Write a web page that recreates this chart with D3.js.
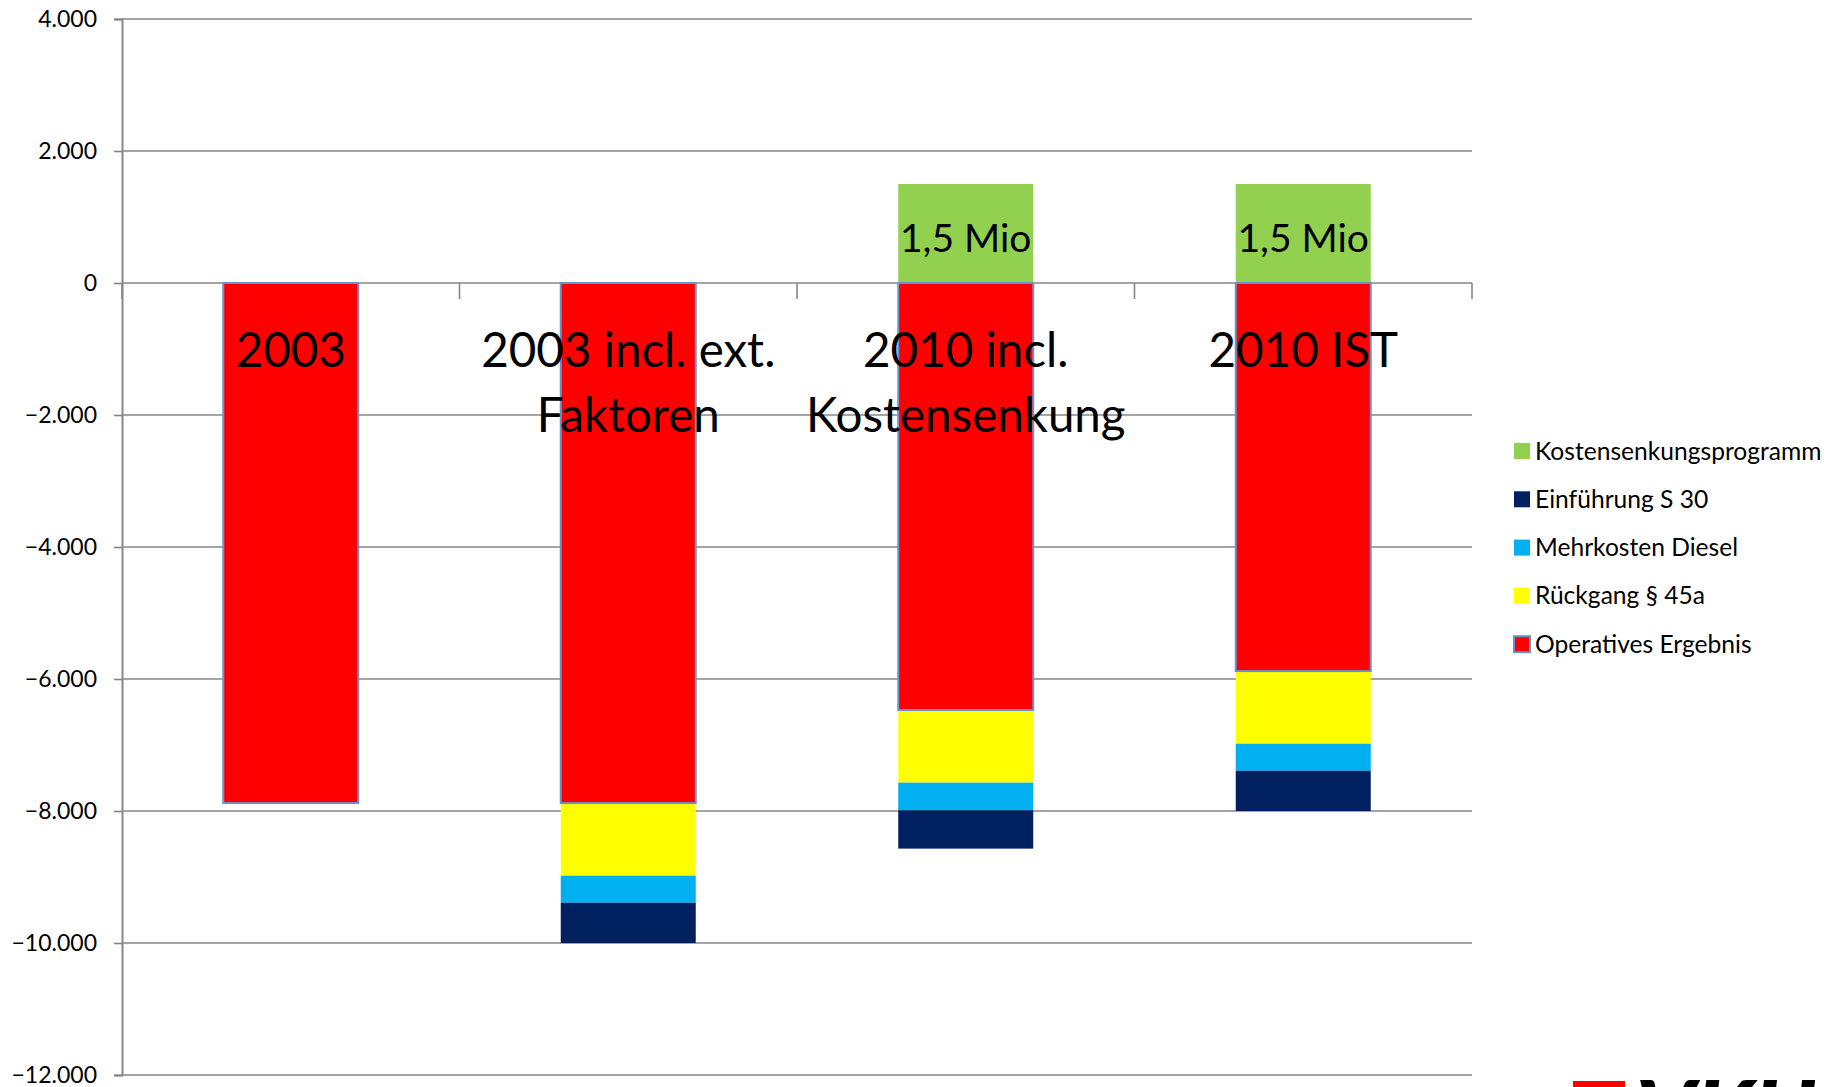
<!DOCTYPE html>
<html>
<head>
<meta charset="utf-8">
<script src="https://cdn.jsdelivr.net/npm/d3@7/dist/d3.min.js"></script>
<style>
  html, body { margin: 0; padding: 0; background: #fff; }
  svg { display: block; }
  text { font-family: Lato, "Open Sans", sans-serif; fill: #000; }
</style>
</head>
<body>
<svg id="chart" width="1845" height="1087"></svg>
<script>
// ---- data ----
const categories = ["2003", "2003 incl. ext. Faktoren", "2010 incl. Kostensenkung", "2010 IST"];
const operativesErgebnis = [-7880, -7880, -6470, -5880];
const rueckgang45a = [0, -1100, -1100, -1100];
const mehrkostenDiesel = [0, -410, -420, -410];
const einfuehrungS30 = [0, -610, -580, -610];
const kostensenkungsprogramm = [0, 0, 1500, 1500];
const dataLabels = ["", "", "1,5 Mio", "1,5 Mio"];
const yTicks = [4000, 2000, 0, -2000, -4000, -6000, -8000, -10000, -12000];

const seriesKeys = ["operativ", "rueckgang", "diesel", "s30", "kosten"];
const seriesNames = {
  operativ: "Operatives Ergebnis",
  rueckgang: "Rückgang § 45a",
  diesel: "Mehrkosten Diesel",
  s30: "Einführung S 30",
  kosten: "Kostensenkungsprogramm"
};
const colors = {
  operativ: "#FF0000",
  rueckgang: "#FFFF00",
  diesel: "#00B0F0",
  s30: "#002060",
  kosten: "#92D050"
};
const legendOrder = ["kosten", "s30", "diesel", "rueckgang", "operativ"];

const rows = categories.map((c, i) => ({
  cat: c,
  operativ: operativesErgebnis[i],
  rueckgang: rueckgang45a[i],
  diesel: mehrkostenDiesel[i],
  s30: einfuehrungS30[i],
  kosten: kostensenkungsprogramm[i],
  label: dataLabels[i]
}));

// ---- layout ----
const svg = d3.select("#chart");
const plot = { left: 122, right: 1472, top: 19, bottom: 1075 };
const gridColor = "#878787";

const x = d3.scaleBand().domain(categories).range([plot.left, plot.right])
  .paddingInner(0.6).paddingOuter(0.3);
const y = d3.scaleLinear().domain([-12000, 4000]).range([plot.bottom, plot.top]);

// gridlines + y axis
const yAxis = d3.axisLeft(y).tickValues(yTicks)
  .tickFormat(d => d3.format(",")(d).replace(/,/g, "."))
  .tickSize(8).tickPadding(17);
const gy = svg.append("g").attr("transform", `translate(${plot.left},0)`).call(yAxis);
gy.select(".domain").attr("stroke", gridColor).attr("stroke-width", 2);
gy.selectAll(".tick line").attr("stroke", gridColor).attr("stroke-width", 1.6);
gy.selectAll(".tick text").style("font-size", "23px").style("font-family", "Lato, sans-serif").attr("fill", "#000");

svg.append("g").selectAll("line").data(yTicks).join("line")
  .attr("x1", plot.left).attr("x2", plot.right)
  .attr("y1", d => y(d)).attr("y2", d => y(d))
  .attr("stroke", gridColor).attr("stroke-width", 1.6);

// category boundary ticks on zero axis
const step = x.step();
const boundaries = d3.range(categories.length + 1).map(i => plot.left + i * step);
svg.append("g").selectAll("line").data(boundaries).join("line")
  .attr("x1", d => d).attr("x2", d => d)
  .attr("y1", y(0)).attr("y2", y(0) + 16)
  .attr("stroke", gridColor).attr("stroke-width", 1.6);

// stacked bars
const stack = d3.stack().keys(seriesKeys).offset(d3.stackOffsetDiverging);
const stacked = stack(rows);
const drawOrder = ["rueckgang", "diesel", "s30", "kosten", "operativ"];
const barsG = svg.append("g");
drawOrder.forEach(key => {
  const s = stacked.find(d => d.key === key);
  barsG.append("g").selectAll("rect")
    .data(s.filter(d => d[1] - d[0] !== 0))
    .join("rect")
    .attr("x", d => x(d.data.cat))
    .attr("width", x.bandwidth())
    .attr("y", d => y(d[1]))
    .attr("height", d => y(d[0]) - y(d[1]))
    .attr("fill", colors[key])
    .attr("stroke", key === "operativ" ? "#6A92CC" : "none")
    .attr("stroke-width", key === "operativ" ? 2 : 0);
});

// data labels on green segments
const kostenStack = stacked.find(d => d.key === "kosten");
svg.append("g").selectAll("text")
  .data(kostenStack.filter(d => d.data.label))
  .join("text")
  .attr("x", d => x(d.data.cat) + x.bandwidth() / 2)
  .attr("y", d => (y(d[0]) + y(d[1])) / 2 + 18)
  .attr("text-anchor", "middle")
  .style("font-size", "39px")
  .text(d => d.data.label);

// category labels (wrapped)
const gx = svg.append("g").attr("transform", `translate(0,${y(0)})`)
  .call(d3.axisBottom(x).tickSize(0).tickPadding(0));
gx.select(".domain").remove();
gx.selectAll(".tick text").each(function(d) {
  const t = d3.select(this);
  t.text(null).attr("y", 0).attr("dy", null)
    .style("font-size", "47.5px").style("font-family", "Lato, sans-serif").attr("fill", "#000");
  const words = d.split(" ");
  let lines = [], line = [];
  const probe = t.append("tspan");
  words.forEach(w => {
    const trial = line.concat(w).join(" ");
    probe.text(trial);
    if (probe.node().getComputedTextLength() > step && line.length) {
      lines.push(line.join(" "));
      line = [w];
    } else line.push(w);
  });
  lines.push(line.join(" "));
  probe.remove();
  lines.forEach((ln, i) => {
    t.append("tspan").attr("x", 0).attr("y", 84 + i * 65).text(ln);
  });
});

// legend
const lg = svg.append("g").attr("transform", "translate(1514,451)");
legendOrder.forEach((key, i) => {
  const row = lg.append("g").attr("transform", `translate(0,${i * 48.3})`);
  row.append("rect").attr("x", 0).attr("y", -8).attr("width", 16).attr("height", 16)
    .attr("fill", colors[key])
    .attr("stroke", key === "operativ" ? "#6A92CC" : "none")
    .attr("stroke-width", key === "operativ" ? 2 : 0);
  row.append("text").attr("x", 21).attr("y", 8.5).style("font-size", "24.6px").text(seriesNames[key]);
});

// logo (cut off at bottom edge, as in the reference)
svg.append("rect").attr("x", 1573).attr("y", 1081).attr("width", 52).attr("height", 10).attr("fill", "#FF0000");
svg.append("text").attr("x", 1636).attr("y", 1145).style("font-size", "90px")
  .style("font-weight", "900").style("font-style", "italic").text("VKU");
</script>
</body>
</html>
